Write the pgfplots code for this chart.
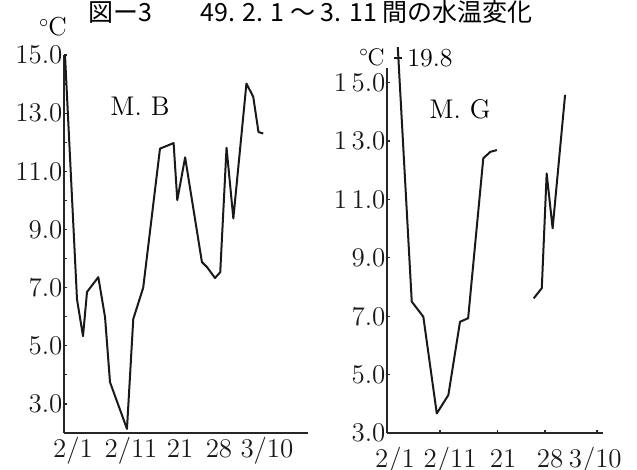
\documentclass[border=0pt]{standalone}
\usepackage{pgfplots}
\pgfplotsset{compat=1.18}
\usepackage{fontspec}
\newfontfamily\cjk{Noto Sans CJK JP}
\pgfplotsset{
  panel/.style={
    scale only axis,
    anchor=south west,
    axis lines=left,
    axis line style={-, line width=0.8bp, black!85},
    tick align=inside,
    major tick length=1.6bp, minor tick length=1.6bp,
    tick style={black!85, line width=0.6bp},
    every tick label/.append style={font=\fontsize{13.5bp}{16bp}\selectfont, text=black!90},
    yticklabel style={inner sep=0.6bp},
    xticklabel style={anchor=base},
    clip=true,
  }
}
\begin{document}
\begin{tikzpicture}[x=1bp,y=1bp]
\useasboundingbox (0,0) rectangle (318.5,235);

% ---------------- left panel: M. B ----------------
\begin{axis}[panel,
  at={(32bp,18.5bp)},
  width=122bp, height=189bp,
  xmin=-1.72, xmax=44.85, ymin=2, ymax=15,
  xtick={0,11.07,20.42,27.86,37.02},
  xticklabels={2/1,2/11,21,28,3/10},
  xticklabel style={yshift=-12bp},
  major x tick style={draw=none},
  ytick={3,5,7,9,11,13,15},
  yticklabels={3.0,5.0,7.0,9.0,11.0,13.0,15.0},
  minor ytick={4,6,8,10,12,14},
]
\addplot[black!90, line width=1bp, line join=round] coordinates {
(-1.53,15.0) (0.76,6.60) (1.91,5.33) (2.67,6.85) (4.83,7.36) (6.11,5.99)
(7.06,3.75) (10.3,2.14) (11.5,5.92) (13.4,7.00) (16.6,11.78) (19.2,11.97)
(19.9,10.01) (21.4,11.48) (24.6,7.88) (25.6,7.70) (27.1,7.33) (28.1,7.53)
(29.3,11.81) (30.6,9.38) (33.1,14.02) (34.4,13.56) (35.4,12.35) (36.3,12.30)
};
\end{axis}

% ---------------- right panel: M. G ----------------
\begin{axis}[panel,
  at={(193.5bp,18.5bp)},
  width=108bp, height=192.7bp,
  xmin=-1.48, xmax=38.4, ymin=3, ymax=16.2,
  y axis line style={shorten >=10bp},
  xtick={0,10.17,19.96,28.65,36.97},
  xticklabels={2/1,2/11,21,28,3/10},
  xticklabel style={yshift=-17bp},
  major x tick style={draw=none},
  minor xtick={8.3,18.9,27.7,37.3},
  ytick={3,5,7,9,11,13,15},
  yticklabels={3.0,5.0,7.0,9.0,1\,1.0,1\,3.0,1\,5.0},
]
\addplot[black!90, line width=1bp, line join=round] coordinates {
(-0.55,19.8) (3.09,7.50) (5.23,6.98) (7.71,3.67) (9.85,4.30) (12.0,6.81)
(13.5,6.93) (16.3,12.41) (17.6,12.63) (18.8,12.69)
};
\addplot[black!90, line width=1bp, line join=round] coordinates {
(25.6,7.61) (27.1,7.96) (28.0,11.89) (29.1,10.01) (31.4,14.58)
};
\draw[black!90, line width=0.7bp] (axis cs:-0.2,15.85) -- (axis cs:1.3,15.85);
\end{axis}

% ---------------- texts ----------------
\node[anchor=base west, inner sep=0pt, font=\cjk\fontsize{12.5bp}{15bp}\selectfont]
  at (44,224.5) {図ー3};
\node[anchor=base west, inner sep=0pt, font=\cjk\fontsize{12.5bp}{15bp}\selectfont]
  at (100,224.5) {49. 2. 1 ～ 3. 11 間の水温変化};
\node[inner sep=0pt, font=\fontsize{13bp}{16bp}\selectfont] at (26.5,221.5) {$^{\circ}$\kern-0.5bp C};
\node[inner sep=0pt, font=\fontsize{12bp}{14bp}\selectfont] at (186,206.5) {$^{\circ}$\kern-0.5bp C};
\node[inner sep=0pt, font=\fontsize{13bp}{15bp}\selectfont] at (215,206) {19.8};
\node[inner sep=0pt, font=\fontsize{13.5bp}{16bp}\selectfont] at (70,182) {M.\,\,B};
\node[inner sep=0pt, font=\fontsize{13.5bp}{16bp}\selectfont] at (230,180.5) {M.\,\,G};
\end{tikzpicture}
\end{document}
